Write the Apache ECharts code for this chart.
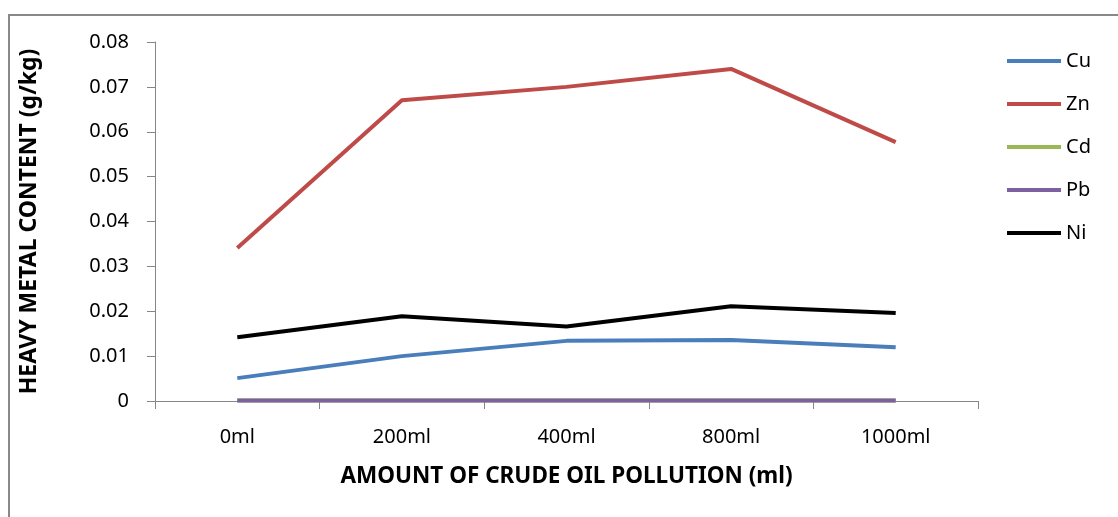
<!DOCTYPE html>
<html>
<head>
<meta charset="utf-8">
<script src="https://cdn.jsdelivr.net/npm/echarts@6/dist/echarts.min.js"></script>
<style>
html,body{margin:0;padding:0;background:#fff;overflow:hidden;}
#frame{position:absolute;left:8px;top:14px;width:1200px;height:600px;border-left:2px solid #888;border-top:2px solid #888;}
#main{position:absolute;left:0;top:0;width:1118px;height:517px;}
</style>
</head>
<body>
<div id="frame"></div>
<div id="main"></div>
<script>
const categories = ['0ml', '200ml', '400ml', '800ml', '1000ml'];
const cu = [0.0051, 0.0100, 0.0134, 0.0136, 0.0120];
const zn = [0.0341, 0.0670, 0.0700, 0.0740, 0.0577];
const cd = [0.0001, 0.0001, 0.0001, 0.0001, 0.0001];
const pb = [0.0001, 0.0001, 0.0001, 0.0001, 0.0001];
const ni = [0.0142, 0.0189, 0.0166, 0.0211, 0.0196];
const seriesNames = ['Cu', 'Zn', 'Cd', 'Pb', 'Ni'];
const seriesColors = ['#4A7EBB', '#BE4B48', '#98B954', '#7D60A0', '#000000'];
const seriesData = [cu, zn, cd, pb, ni];

const font = 'Noto Sans';
const chart = echarts.init(document.getElementById('main'));
chart.setOption({
  animation: false,
  grid: {left: 155, right: 140, top: 42, bottom: 116, containLabel: false},
  legend: {
    orient: 'vertical', left: 1002, top: 46,
    itemWidth: 54, itemHeight: 4, itemGap: 23,
    icon: 'rect',
    textStyle: {fontFamily: font, fontSize: 20, color: '#000'},
    data: seriesNames
  },
  xAxis: {
    type: 'category', data: categories, boundaryGap: true,
    axisLine: {lineStyle: {color: '#868686', width: 1}},
    axisTick: {show: true, length: 8, lineStyle: {color: '#868686'}},
    axisLabel: {fontFamily: font, fontSize: 20, color: '#000', margin: 26},
    name: 'AMOUNT OF CRUDE OIL POLLUTION (ml)', nameLocation: 'middle', nameGap: 64,
    nameTextStyle: {fontFamily: font, fontSize: 22.5, fontWeight: 'bold', color: '#000'}
  },
  yAxis: {
    type: 'value', min: 0, max: 0.08, interval: 0.01,
    axisLine: {show: true, lineStyle: {color: '#868686', width: 1}},
    axisTick: {show: true, length: 8, inside: false, lineStyle: {color: '#868686'}},
    splitLine: {show: false},
    axisLabel: {fontFamily: font, fontSize: 20, color: '#000', margin: 26,
      formatter: v => v === 0 ? '0' : v.toFixed(2)},
    name: 'HEAVY METAL CONTENT (g/kg)', nameLocation: 'middle', nameGap: 114,
    nameTextStyle: {fontFamily: font, fontSize: 23, fontWeight: 'bold', color: '#000'}
  },
  series: seriesNames.map((n, i) => ({
    name: n, type: 'line', data: seriesData[i], symbol: 'none',
    color: seriesColors[i],
    lineStyle: {width: 4, color: seriesColors[i]}
  }))
});
</script>
</body>
</html>
